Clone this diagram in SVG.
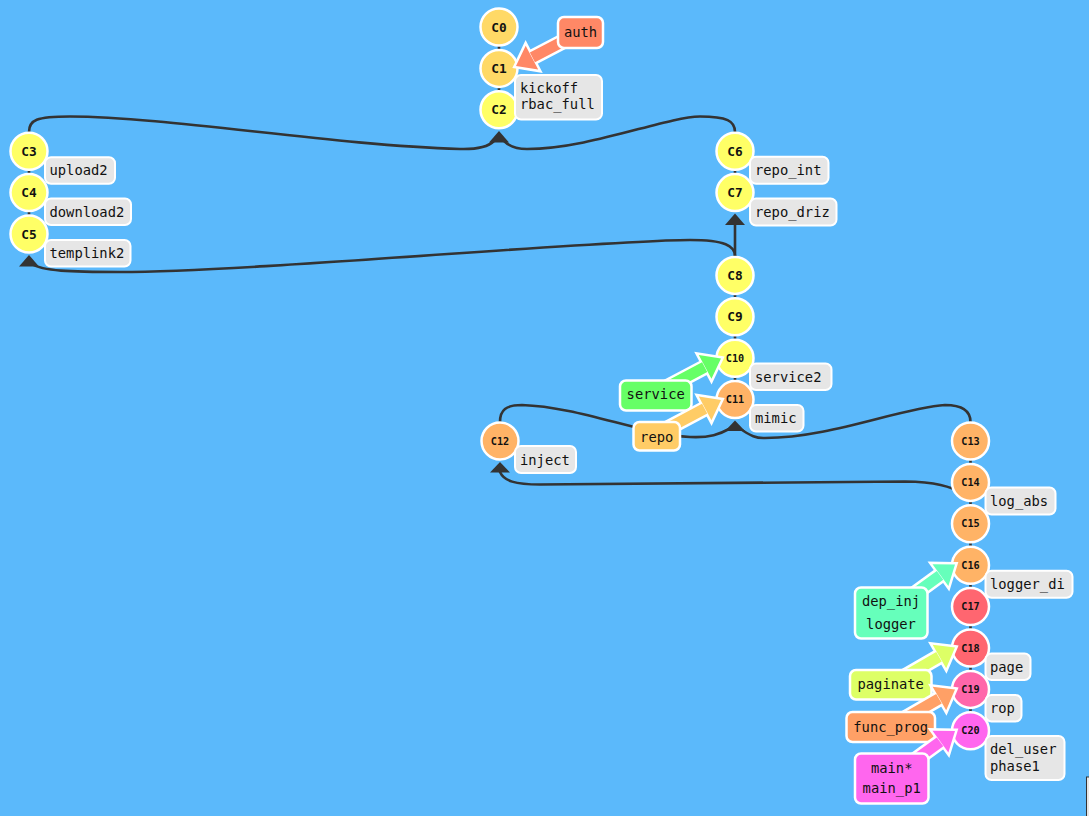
<svg xmlns="http://www.w3.org/2000/svg" width="1089" height="816" viewBox="0 0 1089 816">
<style>
.edge{fill:none;stroke:#333;stroke-width:2.6;stroke-linecap:round}
.ah{fill:#333}
.n{stroke:#fff;stroke-width:2.5}
.nt{font-family:"DejaVu Sans Mono","Liberation Mono",monospace;font-weight:bold;font-size:12.8px;text-anchor:middle;fill:#111}
.nt2{font-size:10.2px}
.lb{fill:#e6e6e6;stroke:#fff;stroke-width:2}
.lt{font-family:"DejaVu Sans Mono","Liberation Mono",monospace;font-size:13.8px;fill:#111}
.tag{stroke:#fff;stroke-width:2.5}
.tt{font-family:"DejaVu Sans Mono","Liberation Mono",monospace;font-size:13.8px;fill:#111;text-anchor:middle}
.ao{fill:#fff;stroke:#fff;stroke-width:5;stroke-linejoin:miter}
.y0{fill:#FFD966}.y1{fill:#FFFF66}.o1{fill:#FFB366}.r1{fill:#FF6670}.p1{fill:#FF66AA}.m1{fill:#FF66EE}
</style>
<rect width="1089" height="816" fill="#5BB9FB"/>
<g id="connectors">
<line class="edge" x1="499" y1="27" x2="499" y2="109.8"/>
<line class="edge" x1="29" y1="151.2" x2="29" y2="234"/>
<line class="edge" x1="735" y1="151.2" x2="735" y2="192.6"/>
<line class="edge" x1="735" y1="275.4" x2="735" y2="399.6"/>
<line class="edge" x1="970.5" y1="441" x2="970.5" y2="730.8"/>
<line class="edge" x1="735" y1="224" x2="735" y2="258"/>
<path class="edge" d="M29,140 L29,132 C29,120 36,116.5 70,116.5 C170,117 330,145 460,149 C478,149.5 488,147 494,141"/>
<path class="edge" d="M735,140 L735,132 C735,121 727,116.5 700,116.5 C665,117 590,149 527,149 C516,149 509,146 504,141"/>
<path class="edge" d="M735,262 L735,256 C735,246 725,240 690,240 C600,240 250,272 120,272 C70,272 42,271 32,264"/>
<path class="edge" d="M500,430 L500,422 C500,410 506,405 522,405 C580,407 640,434 690,437 C710,438 720,434 729,429"/>
<path class="edge" d="M970.5,430 L970.5,422 C970.5,411 962,405 945,405 C900,408 830,438 765,438 C755,438.5 750,435 742,430"/>
<path class="edge" d="M500,472 C504,481 515,484.5 540,484.5 C700,484 850,481 905,481.5 C935,482 950,486 965,494"/>
<polygon class="ah" points="499,131 489,142.5 509,142.5"/>
<polygon class="ah" points="29,255 19,266.5 39,266.5"/>
<polygon class="ah" points="735,213.5 725,225 745,225"/>
<polygon class="ah" points="735,420.5 725,431 745,431"/>
<polygon class="ah" points="500,462 490,472.5 510,472.5"/>
</g>
<g id="node-C0"><circle class="n y0" cx="499" cy="27" r="18.5"/><text class="nt" x="499" y="31.5">C0</text></g>
<g id="node-C1"><circle class="n y0" cx="499" cy="68.4" r="18.5"/><text class="nt" x="499" y="72.9">C1</text></g>
<g id="node-C2"><circle class="n y1" cx="499" cy="109.8" r="18.5"/><text class="nt" x="499" y="114.3">C2</text></g>
<g id="node-C3"><circle class="n y1" cx="29" cy="151.2" r="18.5"/><text class="nt" x="29" y="155.7">C3</text></g>
<g id="node-C4"><circle class="n y1" cx="29" cy="192.6" r="18.5"/><text class="nt" x="29" y="197.1">C4</text></g>
<g id="node-C5"><circle class="n y1" cx="29" cy="234" r="18.5"/><text class="nt" x="29" y="238.5">C5</text></g>
<g id="node-C6"><circle class="n y1" cx="735" cy="151.2" r="18.5"/><text class="nt" x="735" y="155.7">C6</text></g>
<g id="node-C7"><circle class="n y1" cx="735" cy="192.6" r="18.5"/><text class="nt" x="735" y="197.1">C7</text></g>
<g id="node-C8"><circle class="n y1" cx="735" cy="275.4" r="18.5"/><text class="nt" x="735" y="279.9">C8</text></g>
<g id="node-C9"><circle class="n y1" cx="735" cy="316.8" r="18.5"/><text class="nt" x="735" y="321.3">C9</text></g>
<g id="node-C10"><circle class="n y1" cx="735" cy="358.2" r="18.5"/><text class="nt nt2" x="735" y="361.8">C10</text></g>
<g id="node-C11"><circle class="n o1" cx="735" cy="399.6" r="18.5"/><text class="nt nt2" x="735" y="403.2">C11</text></g>
<g id="node-C12"><circle class="n o1" cx="500" cy="441" r="18.5"/><text class="nt nt2" x="500" y="444.6">C12</text></g>
<g id="node-C13"><circle class="n o1" cx="970.5" cy="441" r="18.5"/><text class="nt nt2" x="970.5" y="444.6">C13</text></g>
<g id="node-C14"><circle class="n o1" cx="970.5" cy="482.4" r="18.5"/><text class="nt nt2" x="970.5" y="486">C14</text></g>
<g id="node-C15"><circle class="n o1" cx="970.5" cy="523.8" r="18.5"/><text class="nt nt2" x="970.5" y="527.4">C15</text></g>
<g id="node-C16"><circle class="n o1" cx="970.5" cy="565.2" r="18.5"/><text class="nt nt2" x="970.5" y="568.8">C16</text></g>
<g id="node-C17"><circle class="n r1" cx="970.5" cy="606.6" r="18.5"/><text class="nt nt2" x="970.5" y="610.2">C17</text></g>
<g id="node-C18"><circle class="n r1" cx="970.5" cy="648" r="18.5"/><text class="nt nt2" x="970.5" y="651.6">C18</text></g>
<g id="node-C19"><circle class="n p1" cx="970.5" cy="689.4" r="18.5"/><text class="nt nt2" x="970.5" y="693">C19</text></g>
<g id="node-C20"><circle class="n m1" cx="970.5" cy="730.8" r="18.5"/><text class="nt nt2" x="970.5" y="734.4">C20</text></g>
<g id="labels">
<g id="label-C1"><rect class="lb" x="515" y="75" width="87" height="44.5" rx="6"/><text class="lt" x="520" y="92.5">kickoff</text><text class="lt" x="520" y="109">rbac_full</text></g>
<g id="label-C3"><rect class="lb" x="45" y="157.3" width="70" height="26.5" rx="6"/><text class="lt" x="49.5" y="175">upload2</text></g>
<g id="label-C4"><rect class="lb" x="45" y="198.5" width="86" height="26.5" rx="6"/><text class="lt" x="49.5" y="216.5">download2</text></g>
<g id="label-C5"><rect class="lb" x="45" y="240" width="85.5" height="26.5" rx="6"/><text class="lt" x="49.5" y="258">templink2</text></g>
<g id="label-C6"><rect class="lb" x="750" y="156.7" width="78.5" height="27" rx="6"/><text class="lt" x="755" y="175">repo_int</text></g>
<g id="label-C7"><rect class="lb" x="750" y="198.5" width="86.5" height="27" rx="6"/><text class="lt" x="755" y="216.5">repo_driz</text></g>
<g id="label-C10"><rect class="lb" x="750" y="363.5" width="81.5" height="26.5" rx="6"/><text class="lt" x="755" y="381.5">service2</text></g>
<g id="label-C11"><rect class="lb" x="750" y="405" width="53.5" height="26.5" rx="6"/><text class="lt" x="755" y="423">mimic</text></g>
<g id="label-C12"><rect class="lb" x="515" y="446" width="61" height="27" rx="6"/><text class="lt" x="520" y="465">inject</text></g>
<g id="label-C14"><rect class="lb" x="985.5" y="487.5" width="70" height="27" rx="6"/><text class="lt" x="990" y="506">log_abs</text></g>
<g id="label-C16"><rect class="lb" x="985.5" y="570.7" width="87" height="27" rx="6"/><text class="lt" x="990" y="588.5">logger_di</text></g>
<g id="label-C18"><rect class="lb" x="985.5" y="653.5" width="45" height="26.5" rx="6"/><text class="lt" x="990" y="671.5">page</text></g>
<g id="label-C19"><rect class="lb" x="985.5" y="695" width="36" height="26.5" rx="6"/><text class="lt" x="990" y="713">rop</text></g>
<g id="label-C20"><rect class="lb" x="985.5" y="736" width="79" height="44" rx="6"/><text class="lt" x="990" y="754">del_user</text><text class="lt" x="990" y="770.5">phase1</text></g>
</g>
<g id="tag-auth">
<g transform="translate(516,66) rotate(152.4)"><path class="ao" d="M0,0 L-18,-13.5 L-18,13.5 Z M-18,-5.5 L-72,-5.5 L-72,5.5 L-18,5.5 Z"/><path fill="#FF8866" d="M0,0 L-18,-13.5 L-18,13.5 Z M-18.5,-5.5 L-72,-5.5 L-72,5.5 L-18.5,5.5 Z"/></g>
<rect class="tag" fill="#FF8866" x="558" y="17" width="45" height="31" rx="6"/><text class="tt" x="580.5" y="37">auth</text>
</g>
<g id="tag-service">
<g transform="translate(721,358.5) rotate(-28)"><path class="ao" d="M0,0 L-18,-13.5 L-18,13.5 Z M-18,-5.5 L-75,-5.5 L-75,5.5 L-18,5.5 Z"/><path fill="#66FF66" d="M0,0 L-18,-13.5 L-18,13.5 Z M-18.5,-5.5 L-75,-5.5 L-75,5.5 L-18.5,5.5 Z"/></g>
<rect class="tag" fill="#66FF66" x="620" y="380.5" width="71.5" height="30" rx="6"/><text class="tt" x="655.7" y="398.5">service</text>
</g>
<g id="tag-repo">
<g transform="translate(721,400) rotate(-28)"><path class="ao" d="M0,0 L-18,-13.5 L-18,13.5 Z M-18,-5.5 L-74,-5.5 L-74,5.5 L-18,5.5 Z"/><path fill="#FFCC66" d="M0,0 L-18,-13.5 L-18,13.5 Z M-18.5,-5.5 L-74,-5.5 L-74,5.5 L-18.5,5.5 Z"/></g>
<rect class="tag" fill="#FFCC66" x="633.5" y="422" width="46.5" height="28.5" rx="6"/><text class="tt" x="656.7" y="441.5">repo</text>
</g>
<g id="tag-dep_inj">
<g transform="translate(955,564.5) rotate(-36)"><path class="ao" d="M0,0 L-18,-13.5 L-18,13.5 Z M-18,-5.5 L-80,-5.5 L-80,5.5 L-18,5.5 Z"/><path fill="#66FFBB" d="M0,0 L-18,-13.5 L-18,13.5 Z M-18.5,-5.5 L-80,-5.5 L-80,5.5 L-18.5,5.5 Z"/></g>
<rect class="tag" fill="#66FFBB" x="855" y="587.5" width="72.5" height="51" rx="6"/><text class="tt" x="891" y="606">dep_inj</text><text class="tt" x="891" y="629">logger</text>
</g>
<g id="tag-paginate">
<g transform="translate(955,647.5) rotate(-30)"><path class="ao" d="M0,0 L-18,-13.5 L-18,13.5 Z M-18,-5.5 L-74,-5.5 L-74,5.5 L-18,5.5 Z"/><path fill="#DDFF66" d="M0,0 L-18,-13.5 L-18,13.5 Z M-18.5,-5.5 L-74,-5.5 L-74,5.5 L-18.5,5.5 Z"/></g>
<rect class="tag" fill="#DDFF66" x="850" y="670" width="81.5" height="29.5" rx="6"/><text class="tt" x="890.7" y="689.3">paginate</text>
</g>
<g id="tag-func_prog">
<g transform="translate(955,689.5) rotate(-30)"><path class="ao" d="M0,0 L-18,-13.5 L-18,13.5 Z M-18,-5.5 L-74,-5.5 L-74,5.5 L-18,5.5 Z"/><path fill="#FFA066" d="M0,0 L-18,-13.5 L-18,13.5 Z M-18.5,-5.5 L-74,-5.5 L-74,5.5 L-18.5,5.5 Z"/></g>
<rect class="tag" fill="#FFA066" x="846.5" y="712" width="88.5" height="30" rx="6"/><text class="tt" x="890.7" y="731.7">func_prog</text>
</g>
<g id="tag-main">
<g transform="translate(955,731) rotate(-36)"><path class="ao" d="M0,0 L-18,-13.5 L-18,13.5 Z M-18,-5.5 L-79,-5.5 L-79,5.5 L-18,5.5 Z"/><path fill="#FF66EE" d="M0,0 L-18,-13.5 L-18,13.5 Z M-18.5,-5.5 L-79,-5.5 L-79,5.5 L-18.5,5.5 Z"/></g>
<rect class="tag" fill="#FF66EE" x="855" y="753.5" width="73.5" height="50" rx="6"/><text class="tt" x="891.7" y="773.3">main*</text><text class="tt" x="891.7" y="793.3">main_p1</text>
</g>
<rect x="1086.5" y="777" width="10" height="50" fill="#e6e6e6" stroke="#333" stroke-width="1"/>
</svg>
